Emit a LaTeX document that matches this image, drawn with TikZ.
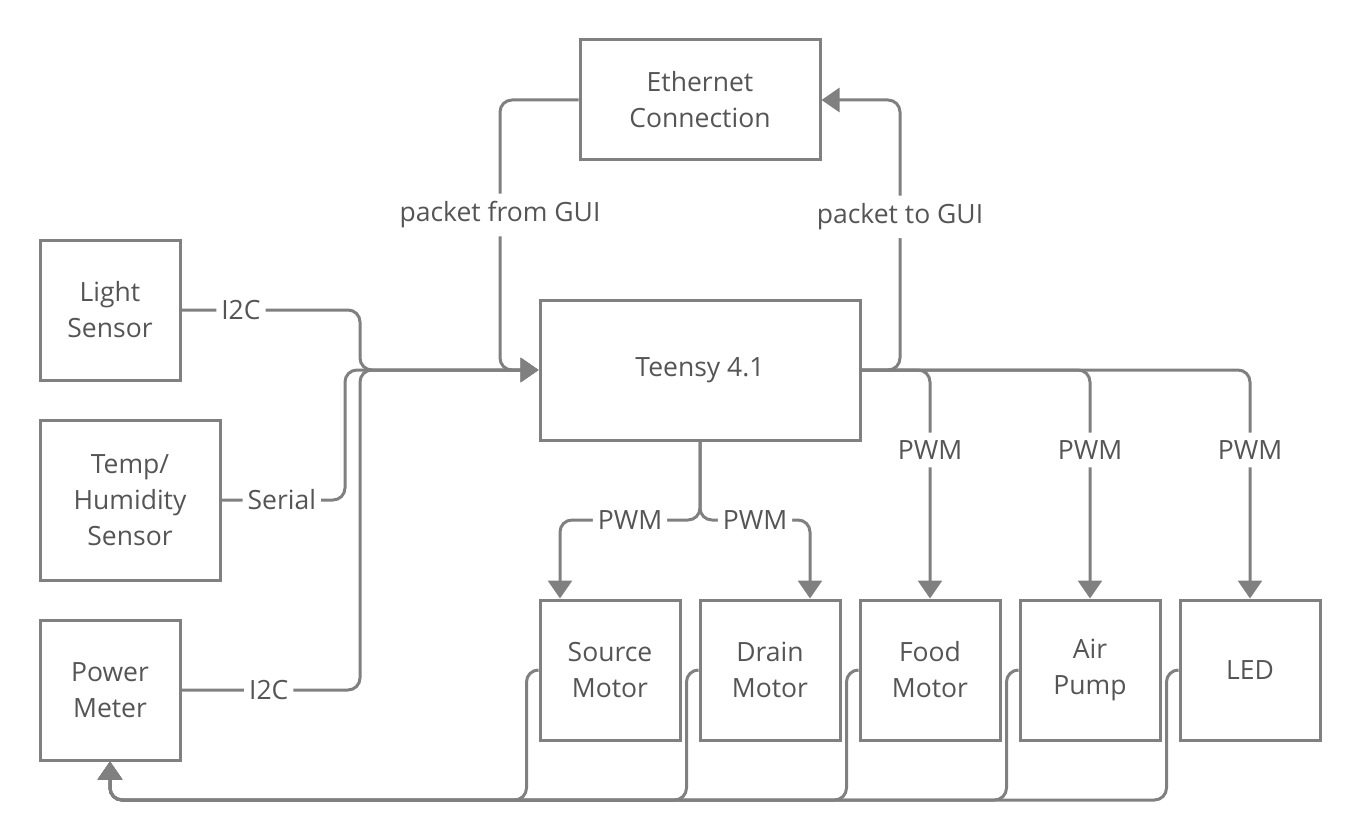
\documentclass[tikz,border=0pt]{standalone}
\usepackage{fontspec}
\setmainfont{Open Sans}
\usetikzlibrary{arrows.meta}

\definecolor{linegray}{RGB}{128,128,128}
\definecolor{textgray}{RGB}{85,85,85}

\tikzset{
    block/.style={draw=linegray, line width=3pt, align=center, text=textgray,
        font=\fontsize{26.5}{36}\selectfont, inner sep=0pt},
    wire/.style={draw=linegray, line width=3pt, rounded corners=12pt},
    arr/.style={wire, -{Triangle[width=24pt,length=18pt]}},
    lbl/.style={fill=white, text=textgray, font=\fontsize{26.5}{30}\selectfont,
        inner xsep=5pt, inner ysep=8pt}
}

\begin{document}
\begin{tikzpicture}[x=1pt, y=-1pt]
    \useasboundingbox (0,0) rectangle (1361,840);

    % Board and network
    \node[block, minimum width=320pt, minimum height=140pt] (teensy) at (700,370) {Teensy 4.1};
    \node[block, minimum width=240pt, minimum height=120pt] (eth) at (700,100) {Ethernet\\Connection};

    % Sensors
    \node[block, minimum width=140pt, minimum height=140pt] (light) at (110,310) {Light\\Sensor};
    \node[block, minimum width=180pt, minimum height=160pt] (temp) at (130,500) {Temp/\\Humidity\\Sensor};
    \node[block, minimum width=140pt, minimum height=140pt] (power) at (110,690) {Power\\Meter};

    % Actuators
    \foreach \name/\x/\txt in {source/610/{Source\\Motor}, drain/770/{Drain\\Motor},
            food/930/{Food\\Motor}, air/1090/{Air\\Pump}, led/1250/LED}{
        \node[block, minimum width=140pt, minimum height=140pt] (\name) at (\x,670) {\txt};
    }

    % Ethernet
    \draw[arr] (eth.west) -- (500,100) -- node[lbl, pos=0.426] (fromgui) {packet from GUI} (500,370) -- (teensy.west);
    \draw[arr] (teensy.east) -- (900,370) -- node[lbl, pos=0.567] (togui) {packet to GUI} (900,100) -- (eth.east);

    % Sensor buses
    \draw[arr] (light.east) -- node[lbl, pos=0.333] (lightbus) {I2C} (360,310) -- (360,370) -- (teensy.west);
    \draw[arr] (temp.east) -- node[lbl, pos=0.488] (tempbus) {Serial} (345,500) -- (345,370) -- (teensy.west);
    \draw[arr] (power.east) -- node[lbl, pos=0.489] (powerbus) {I2C} (360,690) -- (360,370) -- (teensy.west);

    % PWM outputs
    \draw[arr] (teensy.south) -- (700,520) -- node[lbl] (sourcepwm) {PWM} (560,520) -- ([xshift=-50pt]source.north);
    \draw[arr] (teensy.south) -- (700,520) -- node[lbl] (drainpwm) {PWM} (810,520) -- ([xshift=40pt]drain.north);
    \foreach \name/\x in {food/930, air/1090, led/1250}{
        \draw[arr] (teensy.east) -- (\x,370) -- node[lbl, pos=0.35] (\name pwm) {PWM} (\name.north);
    }

    % Returns to power meter
    \foreach \name in {source, drain, food, air, led}{
        \draw[arr] (\name.west) -- ++(-12,0) -- ++(0,130) -| (power.south);
    }

\end{tikzpicture}
\end{document}
